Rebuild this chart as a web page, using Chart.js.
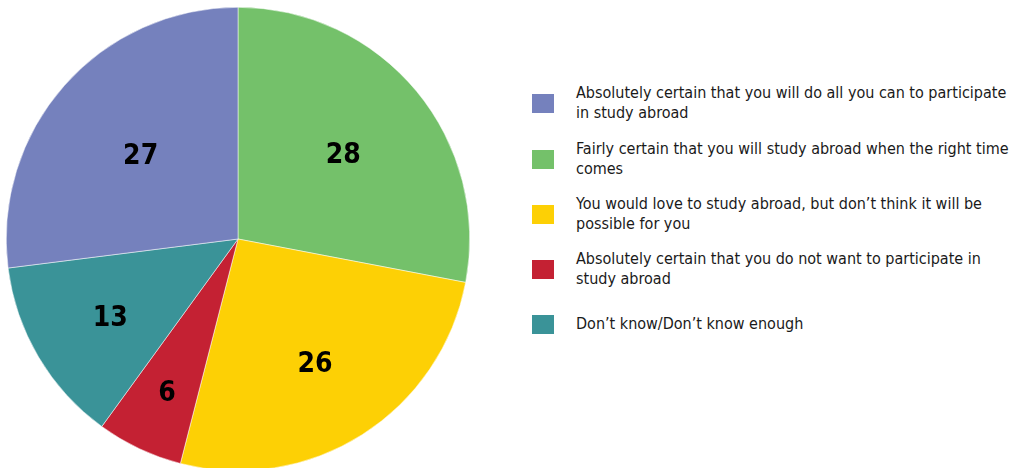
<!DOCTYPE html>
<html lang="en">
<head>
    <meta charset="UTF-8">
    <title>Study Abroad Intentions</title>
    <script src="https://cdn.jsdelivr.net/npm/chart.js"></script>
    <style>
        body { margin: 0; background: #fff; width: 1025px; height: 468px; overflow: hidden; position: relative; }
        #pieBox { position: absolute; left: 0; top: 0; width: 476px; height: 478px; }
        #legend { position: absolute; left: 532px; top: 0; width: 480px;
                  font-family: "Liberation Sans Narrow", "DejaVu Sans Condensed", "Roboto", sans-serif;
                  font-size: 16px; color: #1a1a1a; }
        .item { position: absolute; left: 0; display: flex; align-items: center; transform: translateY(-50%); }
        .swatch { width: 22px; height: 19px; flex: none; margin-right: 22px; }
        .txt { line-height: 20px; width: 440px; }
    </style>
</head>
<body>
    <div id="pieBox"><canvas id="pie"></canvas></div>
    <div id="legend"></div>

    <script>
        // slices in drawing order, clockwise from 12 o'clock
        const categories = [
            "Fairly certain that you will study abroad when the right time comes",
            "You would love to study abroad, but don\u2019t think it will be possible for you",
            "Absolutely certain that you do not want to participate in study abroad",
            "Don\u2019t know/Don\u2019t know enough",
            "Absolutely certain that you will do all you can to participate in study abroad"
        ];
        const values = [28, 26, 6, 13, 27];
        const colors = ["#74c16a", "#fdd005", "#c42133", "#3a9398", "#7581bd"];

        // legend lines (as wrapped in the original) and legend order
        const legendLines = [
            ["Fairly certain that you will study abroad when the right time", "comes"],
            ["You would love to study abroad, but don\u2019t think it will be", "possible for you"],
            ["Absolutely certain that you do not want to participate in", "study abroad"],
            ["Don\u2019t know/Don\u2019t know enough"],
            ["Absolutely certain that you will do all you can to participate", "in study abroad"]
        ];
        const legendOrder = [4, 0, 1, 2, 3];
        const legendY = [103, 159, 214, 269, 324];

        // how far out each value label sits (fraction of radius)
        const labelRadius = [0.59, 0.62, 0.72, 0.64, 0.56];

        const legend = document.getElementById("legend");
        legendOrder.forEach((idx, i) => {
            let item = document.createElement("div");
            item.className = "item";
            item.style.top = legendY[i] + "px";
            item.innerHTML = `<div class="swatch" style="background:${colors[idx]}"></div>
                <div class="txt">${legendLines[idx].join("<br>")}</div>`;
            legend.appendChild(item);
        });

        const valueLabels = {
            id: "valueLabels",
            afterDatasetsDraw(chart) {
                const ctx = chart.ctx;
                const meta = chart.getDatasetMeta(0);
                ctx.save();
                ctx.fillStyle = "#000";
                ctx.font = "bold 28px 'Liberation Sans Narrow', 'DejaVu Sans Condensed', sans-serif";
                ctx.textAlign = "center";
                ctx.textBaseline = "middle";
                meta.data.forEach((arc, i) => {
                    const mid = (arc.startAngle + arc.endAngle) / 2;
                    const r = arc.outerRadius * labelRadius[i];
                    ctx.fillText(values[i], arc.x + Math.cos(mid) * r, arc.y + Math.sin(mid) * r + 4);
                });
                ctx.restore();
            }
        };

        new Chart(document.getElementById("pie"), {
            type: "pie",
            data: {
                labels: categories,
                datasets: [{
                    data: values,
                    backgroundColor: colors,
                    borderWidth: 0.5,
                    borderColor: "#ffffff"
                }]
            },
            options: {
                responsive: true,
                maintainAspectRatio: false,
                animation: false,
                layout: { padding: 6 },
                plugins: {
                    legend: { display: false },
                    tooltip: { enabled: false }
                }
            },
            plugins: [valueLabels]
        });
    </script>
</body>
</html>
